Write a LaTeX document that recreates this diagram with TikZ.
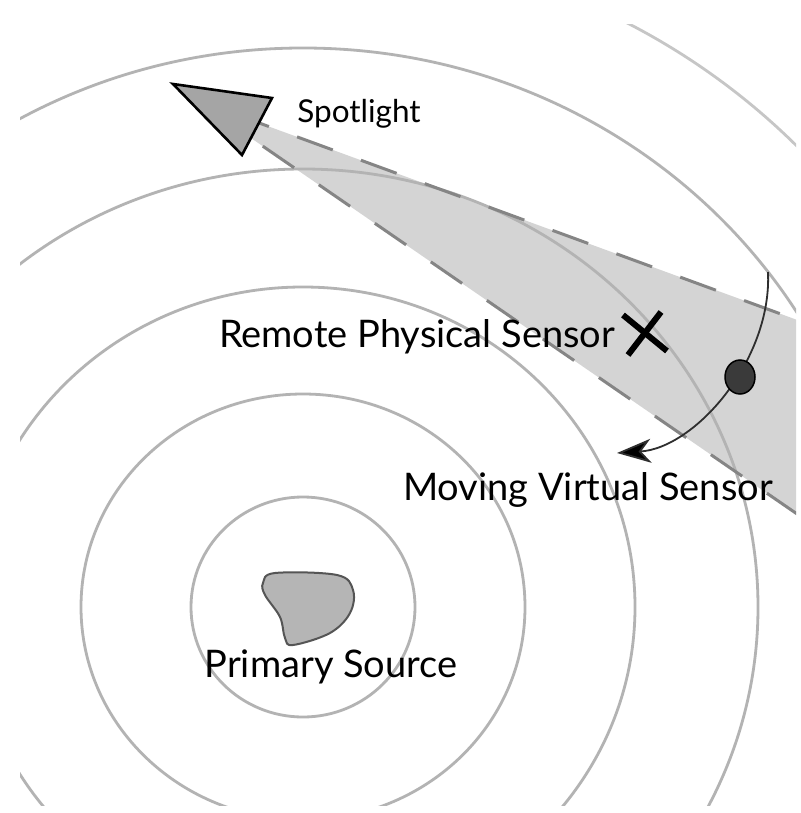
\documentclass[tikz,border=0pt]{standalone}
\usepackage{fontspec}
\setmainfont{Lato}
\usetikzlibrary{shapes.geometric,arrows.meta}
\definecolor{ring}{HTML}{B3B3B3}
\definecolor{ringlight}{HTML}{C6C6C6}
\definecolor{beamfill}{HTML}{D4D4D4}
\definecolor{beamedge}{HTML}{858585}
\definecolor{spotfill}{HTML}{A5A5A5}
\definecolor{srcfill}{HTML}{B5B5B5}
\definecolor{srcedge}{HTML}{555555}
\definecolor{dotfill}{HTML}{3A3A3A}
\definecolor{trackcol}{HTML}{2E2E2E}
\begin{document}
\begin{tikzpicture}[x=1pt,y=-1pt,
  ringline/.style={draw=ring,line width=2.8pt},
  beamline/.style={draw=beamedge,line width=3pt,dash pattern=on 38pt off 30pt},
  lamp/.style={draw=black,fill=spotfill,line width=2.6pt},
  blob/.style={draw=srcedge,fill=srcfill,line width=2pt},
  crossline/.style={draw=black,line width=6pt},
  sensordot/.style={ellipse,draw=black,fill=dotfill,line width=1.5pt,minimum width=30pt,minimum height=34pt,inner sep=0pt},
  track/.style={draw=trackcol,line width=1.8pt,-{Stealth[length=34pt,width=24pt,inset=10pt,fill=black]}},
  bigtext/.style={inner sep=0pt,font=\fontsize{38}{44}\selectfont},
  smalltext/.style={inner sep=0pt,font=\fontsize{31.5}{36}\selectfont}]
\useasboundingbox (0,0) rectangle (800,813);
\fill[white] (0,0) rectangle (800,813);
\begin{scope}
\clip (20,25) rectangle (796,805);
% beam
\coordinate (apex) at (195,99.5);
\coordinate (bu) at (800,321);
\coordinate (bl) at (800,516);
\fill[beamfill] (apex) -- (bu) -- (bl) -- cycle;
% rings
\coordinate (c) at (303,607);
\draw[ringline] (c) ellipse [x radius=112pt,y radius=110pt];
\draw[ringline] (c) ellipse [x radius=222pt,y radius=213pt];
\draw[ringline] (c) ellipse [x radius=332pt,y radius=320pt];
\draw[ringline] (c) ellipse [x radius=455pt,y radius=438pt];
\draw[ringline] (c) ellipse [x radius=581pt,y radius=559pt];
\draw[ringline,draw=ringlight] (c) ellipse [x radius=688pt,y radius=662pt];
% beam edges
\draw[beamline,dash phase=27.3pt] (apex) -- (bu);
\draw[beamline,dash phase=53.7pt] (apex) -- (bl);
\end{scope}
% spotlight
\draw[lamp] (173,84) -- (272,98) -- (242,155) -- cycle;
\node[smalltext,anchor=base] (spotlbl) at (359,123) {Spotlight};
% source
\draw[blob] plot[smooth cycle,tension=0.6] coordinates {(263,583) (275,573) (337,575) (353,590) (350,613) (330,633) (293,645) (285,638) (280,617) (265,595)};
\node[bigtext,anchor=base] (srclbl) at (331,677) {Primary Source};
% remote physical sensor
\coordinate (xs) at (645,333);
\draw[crossline] (623,315) -- (667,351);
\draw[crossline] (661,312) -- (628,355);
\node[bigtext,anchor=base] (rpslbl) at (417,347) {Remote Physical Sensor};
% moving virtual sensor
\coordinate (vs0) at (768,272);
\coordinate (vs1) at (617,453);
\draw[track] (vs0) .. controls (772,360) and (695,448) .. (vs1);
\node[sensordot] (vsdot) at (740,377) {};
\node[bigtext,anchor=base] (mvslbl) at (588,500) {Moving Virtual Sensor};
\end{tikzpicture}
\end{document}
